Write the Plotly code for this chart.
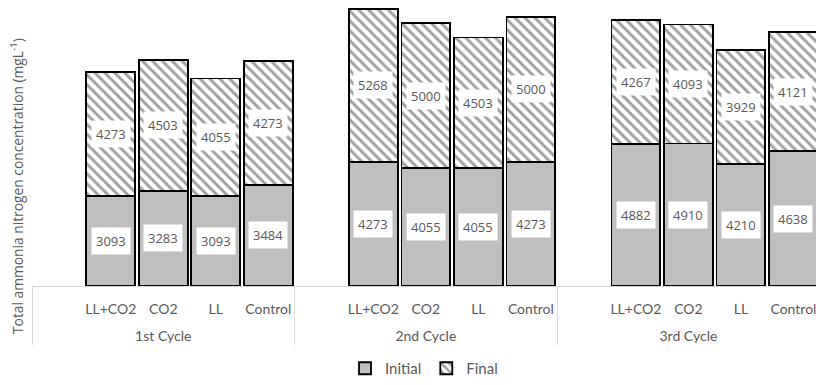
import plotly.graph_objects as go

# Total ammonia nitrogen (mg/L) per treatment and cycle
cycles = ["1st Cycle", "2nd Cycle", "3rd Cycle"]
treatments = ["LL+CO2", "CO2", "LL", "Control"]
initial = [
    [3093, 3283, 3093, 3484],
    [4273, 4055, 4055, 4273],
    [4882, 4910, 4210, 4638],
]
final = [
    [4273, 4503, 4055, 4273],
    [5268, 5000, 4503, 5000],
    [4267, 4093, 3929, 4121],
]

# Each cycle gets a leading blank slot, then the four treatments.
# The cycle names carry a leading line break so they sit lower
# beneath the treatment row.
slot_names = [" "] + treatments
x_outer, x_inner, y_init, y_final = [], [], [], []
for ci, cyc in enumerate(cycles):
    for si, name in enumerate(slot_names):
        x_outer.append("<br>" + cyc)
        x_inner.append(name)
        if si == 0:
            y_init.append(None)
            y_final.append(None)
        else:
            y_init.append(initial[ci][si - 1])
            y_final.append(final[ci][si - 1])

fig = go.Figure()
fig.add_trace(go.Bar(
    name="Initial", x=[x_outer, x_inner], y=y_init,
    marker=dict(color="#bfbfbf", line=dict(color="black", width=1.8)),
))
fig.add_trace(go.Bar(
    name="Final", x=[x_outer, x_inner], y=y_final,
    marker=dict(color="white", line=dict(color="black", width=1.8),
                pattern=dict(shape="\\", fgcolor="#404040", bgcolor="white",
                             size=7, solidity=0.42)),
))

# Value labels in white boxes, centred on each segment
label_font = dict(family="Open Sans", size=13, color="#595959")
for i, (a, b) in enumerate(zip(y_init, y_final)):
    if a is None:
        continue
    fig.add_annotation(x=i, y=a / 2, text=str(a), showarrow=False,
                       bgcolor="white", borderpad=4, font=label_font)
    fig.add_annotation(x=i, y=a + b / 2, text=str(b), showarrow=False,
                       bgcolor="white", borderpad=4, font=label_font)

fig.add_annotation(
    text="Total ammonia nitrogen concentration (mgL<sup>-1</sup>)",
    xref="paper", yref="paper", x=-0.019, y=0.35, textangle=-90,
    xanchor="center", yanchor="middle", showarrow=False,
    font=dict(family="Open Sans", size=13.8, color="#595959"),
)

fig.update_layout(
    width=816, height=385,
    margin=dict(l=32, r=0, t=0, b=96),
    barmode="stack", bargap=0.07,
    plot_bgcolor="white", paper_bgcolor="white",
    showlegend=True,
    legend=dict(orientation="h", x=0.5, xanchor="center", y=-0.29,
                yanchor="middle", traceorder="normal", itemwidth=30,
                font=dict(family="Lato", size=15, color="#595959")),
    xaxis=dict(
        type="multicategory", range=[-0.5, 14.43], tickangle=0,
        automargin=False,
        showline=True, linecolor="#d9d9d9", linewidth=1,
        showdividers=True, dividercolor="#d9d9d9", dividerwidth=1,
        tickfont=dict(family="Lato", size=14, color="#595959"),
        showgrid=False, ticks="", ticklabelstandoff=10,
    ),
    yaxis=dict(range=[0, 9850], showticklabels=False, showgrid=False,
               zeroline=False, showline=False),
)

fig.write_html("out.html")
